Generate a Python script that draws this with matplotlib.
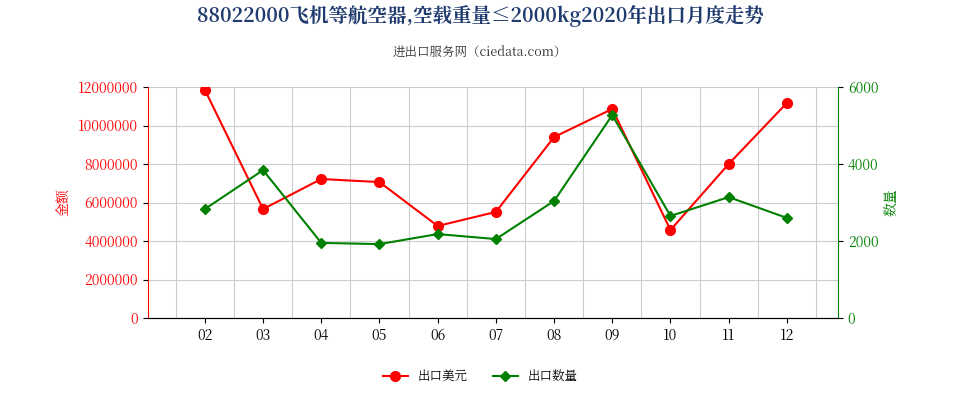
import matplotlib.pyplot as plt
from matplotlib import font_manager
import numpy as np

cjk = [f.name for f in font_manager.fontManager.ttflist if "CJK" in f.name]
plt.rcParams["font.family"] = "sans-serif"
plt.rcParams["font.sans-serif"] = (["Noto Sans CJK SC"] if "Noto Sans CJK SC" in cjk else cjk[:1]) + ["DejaVu Sans"]

months = ["02", "03", "04", "05", "06", "07", "08", "09", "10", "11", "12"]
usd = [11850000, 5660000, 7220000, 7060000, 4780000, 5510000, 9400000, 10860000, 4570000, 8000000, 11170000]
qty = [2830, 3840, 1950, 1920, 2180, 2050, 3040, 5270, 2650, 3140, 2600]

fig = plt.figure(figsize=(9.6, 4), dpi=100)
ax = fig.add_axes([0.154, 0.205, 0.719, 0.5775])
ax2 = ax.twinx()
x = np.arange(len(months))

ax.plot(x, usd, color="#ff0000", marker="o", markersize=7, lw=1.5, label="出口美元")
ax2.plot(x, qty, color="#008000", marker="D", markersize=5, lw=1.5, label="出口数量")

ax.set_xlim(-0.98, 10.88)
ax.set_ylim(0, 12000000)
ax2.set_ylim(0, 6000)
ax.set_yticks(np.arange(0, 12000001, 2000000))
ax.set_yticklabels([str(v) for v in range(0, 12000001, 2000000)], color="#ff0000")
ax2.set_yticks(np.arange(0, 6001, 2000))
ax2.set_yticklabels([str(v) for v in range(0, 6001, 2000)], color="#008000")
ax.set_xticks(x)
ax.set_xticklabels(months)
ax.set_xticks(np.arange(-0.5, 11, 1), minor=True)
ax.grid(True, which="minor", axis="x", color="#cccccc", lw=0.8)
ax.grid(True, which="major", axis="y", color="#cccccc", lw=0.8)
ax.tick_params(axis="x", which="minor", length=0)
for a in (ax, ax2):
    a.spines["top"].set_visible(False)
ax.spines["right"].set_visible(False)
ax.spines["left"].set_color("#ff0000")
ax2.spines["left"].set_visible(False)
ax2.spines["right"].set_color("#008000")
ax.spines["bottom"].set_color("#333333")

ax.set_ylabel("金额", color="#ff0000", fontsize=10)
ax2.set_ylabel("数量", color="#008000", fontsize=10)

fig.text(0.5, 0.945, "88022000飞机等航空器,空载重量≤2000kg2020年出口月度走势", ha="center",
         fontsize=14, fontweight="bold", color="#1f3a6e")
fig.text(0.5, 0.86, "进出口服务网（ciedata.com）", ha="center", fontsize=9, color="#333333")

h1, l1 = ax.get_legend_handles_labels()
h2, l2 = ax2.get_legend_handles_labels()
fig.legend(h1 + h2, l1 + l2, loc="center", bbox_to_anchor=(0.5, 0.06), ncol=2, frameon=False, fontsize=9)

fig.savefig("out.png", dpi=100)
